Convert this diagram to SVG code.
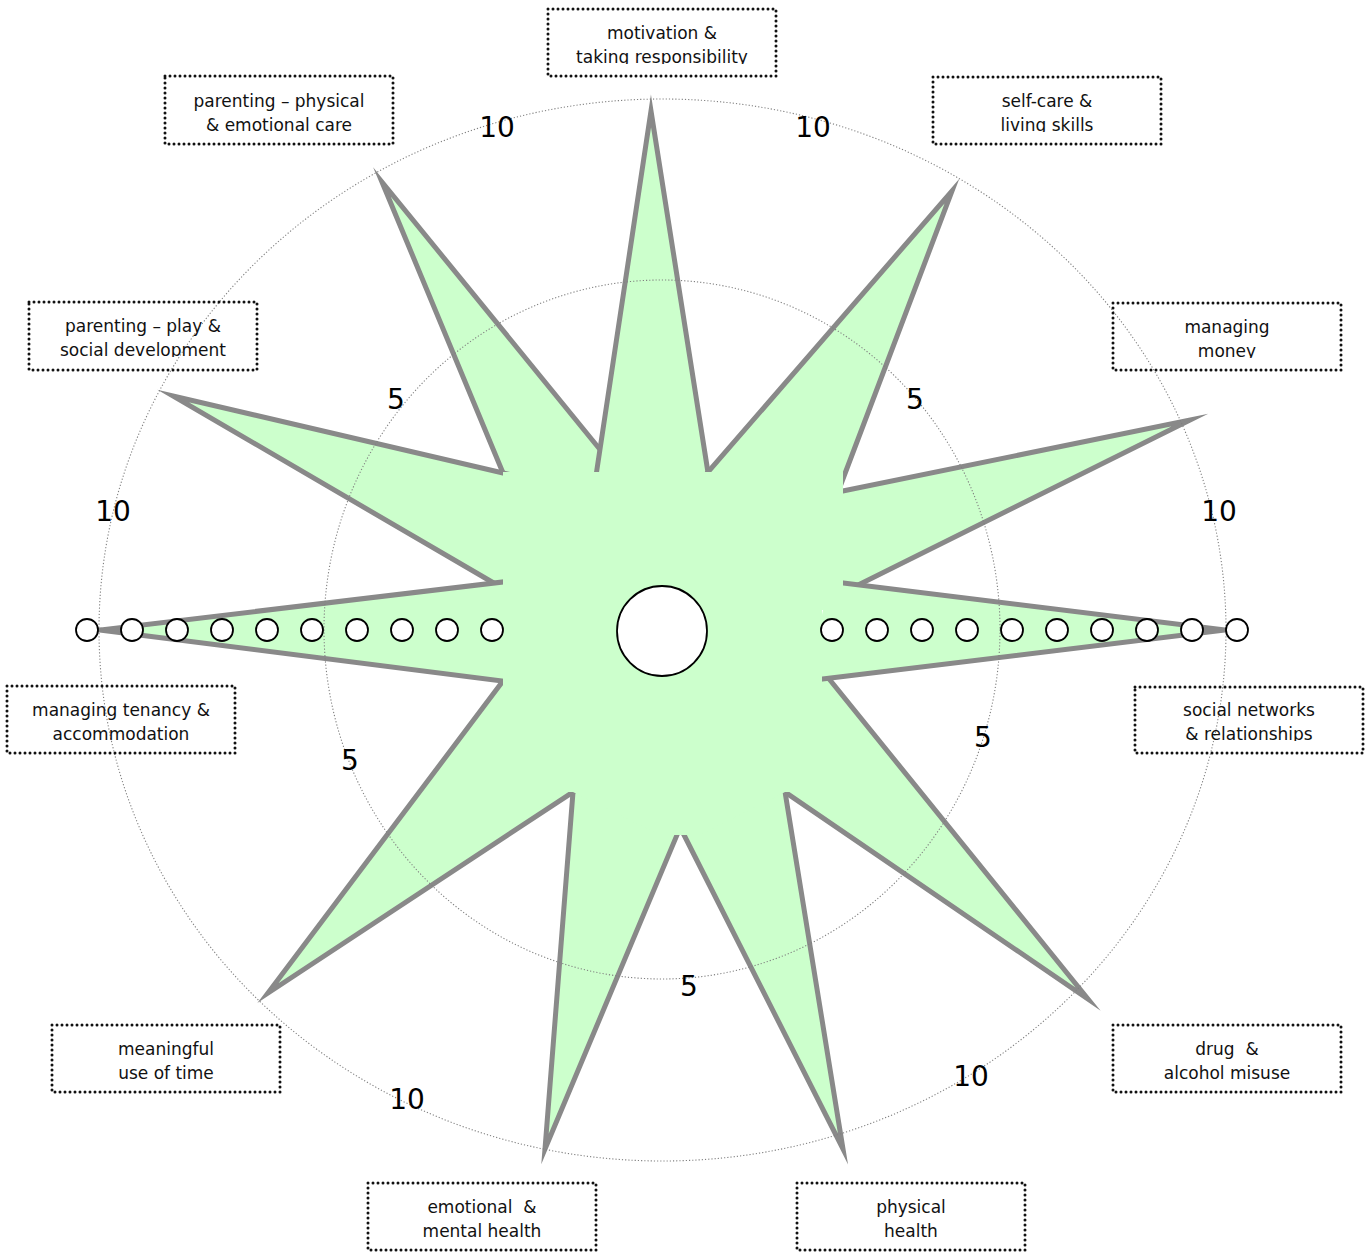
<svg xmlns="http://www.w3.org/2000/svg" width="1366" height="1256" viewBox="0 0 1366 1256">
<style>
.ring{fill:none;stroke:#808080;stroke-width:1.1;stroke-dasharray:1.2 2}
.spike{fill:#ccffcc;stroke:#898989;stroke-width:5;stroke-linejoin:miter;stroke-miterlimit:40;stroke-linecap:butt}
.cover{fill:#ccffcc;stroke:none}
.dot{fill:#fff;stroke:#000;stroke-width:1.8}
.box{fill:none;stroke:#111;stroke-width:3;stroke-dasharray:0 5;stroke-linecap:round}
.lbl{font-family:"DejaVu Sans","Liberation Sans",sans-serif;font-size:17px;text-anchor:middle;fill:#111}
.num{font-family:"DejaVu Sans","Liberation Sans",sans-serif;font-size:28px;text-anchor:middle;fill:#000}
</style>
<defs>
<clipPath id="c1"><rect x="548" y="9" width="228" height="55"/></clipPath>
<clipPath id="c2"><rect x="933" y="77" width="228" height="55"/></clipPath>
<clipPath id="c3"><rect x="1113" y="303" width="228" height="55"/></clipPath>
<clipPath id="c4"><rect x="1135" y="687" width="228" height="54"/></clipPath>
<clipPath id="c10"><rect x="29" y="302" width="228" height="55"/></clipPath>
</defs>
<rect width="1366" height="1256" fill="#fff"/>

<g id="star">
<path class="spike" d="M507.6,484 L382,182 L633,490"/>
<path class="spike" d="M594.3,487 L651,111 L710.3,487"/>
<path class="spike" d="M698.8,482.6 L952,191 L838,492"/>
<path class="spike" d="M829.3,493.8 L1190,420 L830,599"/>
<path class="spike" d="M815,661.5 L1088,999 L773.4,784.1"/>
<path class="spike" d="M829.1,581.3 L1225,630 L808.1,680.7"/>
<path class="spike" d="M677.7,822.5 L843,1149 L782.8,778.2"/>
<path class="spike" d="M574.1,778 L545,1149 L682.4,822.1"/>
<path class="spike" d="M511.4,669.8 L268,993 L584.7,784.3"/>
<path class="spike" d="M520.5,477.1 L173,396 L515,595.4"/>
<path class="spike" d="M516.9,580.3 L100,630 L516.9,682.8"/>
<polygon class="cover" points="503,472 843,472 843,610 822,610 822,792 785,792 700,835 660,835 573,792 503,792"/>
</g>

<g id="rings">
<ellipse class="ring" cx="662.5" cy="630" rx="563.5" ry="531"/>
<ellipse class="ring" cx="662" cy="629.5" rx="338" ry="349.5"/>
</g>

<g id="scale-points">
<circle class="dot" cx="662" cy="631" r="45"/>
<circle class="dot" cx="87" cy="630" r="11"/>
<circle class="dot" cx="132" cy="630" r="11"/>
<circle class="dot" cx="177" cy="630" r="11"/>
<circle class="dot" cx="222" cy="630" r="11"/>
<circle class="dot" cx="267" cy="630" r="11"/>
<circle class="dot" cx="312" cy="630" r="11"/>
<circle class="dot" cx="357" cy="630" r="11"/>
<circle class="dot" cx="402" cy="630" r="11"/>
<circle class="dot" cx="447" cy="630" r="11"/>
<circle class="dot" cx="492" cy="630" r="11"/>
<circle class="dot" cx="832" cy="630" r="11"/>
<circle class="dot" cx="877" cy="630" r="11"/>
<circle class="dot" cx="922" cy="630" r="11"/>
<circle class="dot" cx="967" cy="630" r="11"/>
<circle class="dot" cx="1012" cy="630" r="11"/>
<circle class="dot" cx="1057" cy="630" r="11"/>
<circle class="dot" cx="1102" cy="630" r="11"/>
<circle class="dot" cx="1147" cy="630" r="11"/>
<circle class="dot" cx="1192" cy="630" r="11"/>
<circle class="dot" cx="1237" cy="630" r="11"/>
</g>

<g id="scale-numbers">
<text class="num" x="497" y="137">10</text>
<text class="num" x="813" y="137">10</text>
<text class="num" x="113" y="521">10</text>
<text class="num" x="1219" y="521">10</text>
<text class="num" x="407" y="1109">10</text>
<text class="num" x="971" y="1086">10</text>
<text class="num" x="396" y="409">5</text>
<text class="num" x="915" y="409">5</text>
<text class="num" x="350" y="770">5</text>
<text class="num" x="983" y="747">5</text>
<text class="num" x="689" y="996">5</text>
</g>

<g id="label-motivation">
<rect class="box" x="548" y="9" width="228" height="67"/>
<text class="lbl" x="662" y="39">motivation &amp;</text>
<text class="lbl" x="662" y="63" clip-path="url(#c1)">taking responsibility</text>
</g>
<g id="label-self-care">
<rect class="box" x="933" y="77" width="228" height="67"/>
<text class="lbl" x="1047" y="107">self-care &amp;</text>
<text class="lbl" x="1047" y="131" clip-path="url(#c2)">living skills</text>
</g>
<g id="label-money">
<rect class="box" x="1113" y="303" width="228" height="67"/>
<text class="lbl" x="1227" y="333">managing</text>
<text class="lbl" x="1227" y="357" clip-path="url(#c3)">money</text>
</g>
<g id="label-social">
<rect class="box" x="1135" y="687" width="228" height="66"/>
<text class="lbl" x="1249" y="716">social networks</text>
<text class="lbl" x="1249" y="740" clip-path="url(#c4)">&amp; relationships</text>
</g>
<g id="label-drug">
<rect class="box" x="1113" y="1025" width="228" height="67"/>
<text class="lbl" x="1227" y="1055">drug&#160; &amp;</text>
<text class="lbl" x="1227" y="1079">alcohol misuse</text>
</g>
<g id="label-physical-health">
<rect class="box" x="797" y="1183" width="228" height="67"/>
<text class="lbl" x="911" y="1213">physical</text>
<text class="lbl" x="911" y="1237">health</text>
</g>
<g id="label-emotional">
<rect class="box" x="368" y="1183" width="228" height="67"/>
<text class="lbl" x="482" y="1213">emotional&#160; &amp;</text>
<text class="lbl" x="482" y="1237">mental health</text>
</g>
<g id="label-meaningful">
<rect class="box" x="52" y="1025" width="228" height="67"/>
<text class="lbl" x="166" y="1055">meaningful</text>
<text class="lbl" x="166" y="1079">use of time</text>
</g>
<g id="label-tenancy">
<rect class="box" x="7" y="686" width="228" height="67"/>
<text class="lbl" x="121" y="716">managing tenancy &amp;</text>
<text class="lbl" x="121" y="740">accommodation</text>
</g>
<g id="label-play">
<rect class="box" x="29" y="302" width="228" height="68"/>
<text class="lbl" x="143" y="332">parenting – play &amp;</text>
<text class="lbl" x="143" y="356" clip-path="url(#c10)">social development</text>
</g>
<g id="label-parenting-physical">
<rect class="box" x="165" y="76" width="228" height="68"/>
<text class="lbl" x="279" y="107">parenting – physical</text>
<text class="lbl" x="279" y="131">&amp; emotional care</text>
</g>
</svg>
